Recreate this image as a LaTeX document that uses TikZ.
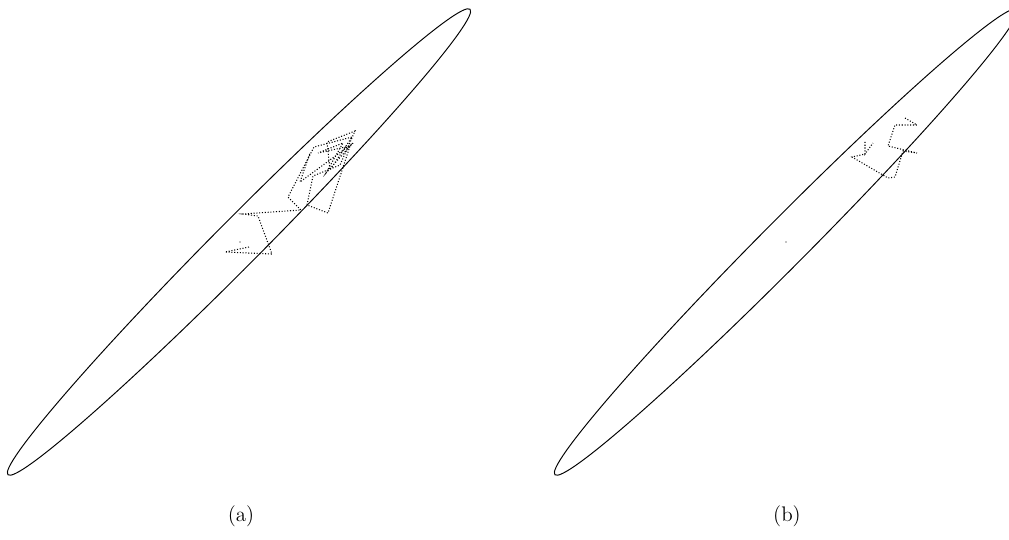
\documentclass[tikz,border=0pt]{standalone}
\usepackage{amsmath}
\usepackage{tikz}

\begin{document}
\begin{tikzpicture}[x=0.02cm,y=-0.02cm,
  bound/.style={line width=0.55pt},
  walk/.style={densely dotted,line width=0.6pt},
  tag/.style={font=\large}]
\useasboundingbox (0,0) rectangle (1009,539);
\clip (0,0) rectangle (1009,539);
\coordinate (ca) at (239,242);
\coordinate (cb) at (786,242);
\draw[bound,rotate around={45.2:(ca)}] (ca) ellipse (328 and 23);
\draw[bound,rotate around={45.2:(cb)}] (cb) ellipse (328 and 23);
\fill (240,242) circle (0.6);
\fill (cb) circle (0.6);
\draw[walk] (249,247) -- (225,252) -- (272,254) -- (258,216) -- (243,214)
  -- (301,210) -- (288,197) -- (314,147) -- (352,137) -- (330,170)
  -- (327,142) -- (355,131) -- (340,165) -- (313,176) -- (307,205)
  -- (328,213) -- (350,146) -- (318,153) -- (343,143) -- (326,173)
  -- (353,143) -- (300,182) -- (310,153);
\draw[walk] (905,118) -- (917,125) -- (895,125) -- (888,146) -- (917,153)
  -- (903,151) -- (895,177) -- (888,178) -- (852,157) -- (865,154)
  -- (865,141) -- (865,154) -- (873,143);
\node[tag] (lbla) at (241,516) {(a)};
\node[tag] (lblb) at (787,516) {(b)};
\end{tikzpicture}
\end{document}
